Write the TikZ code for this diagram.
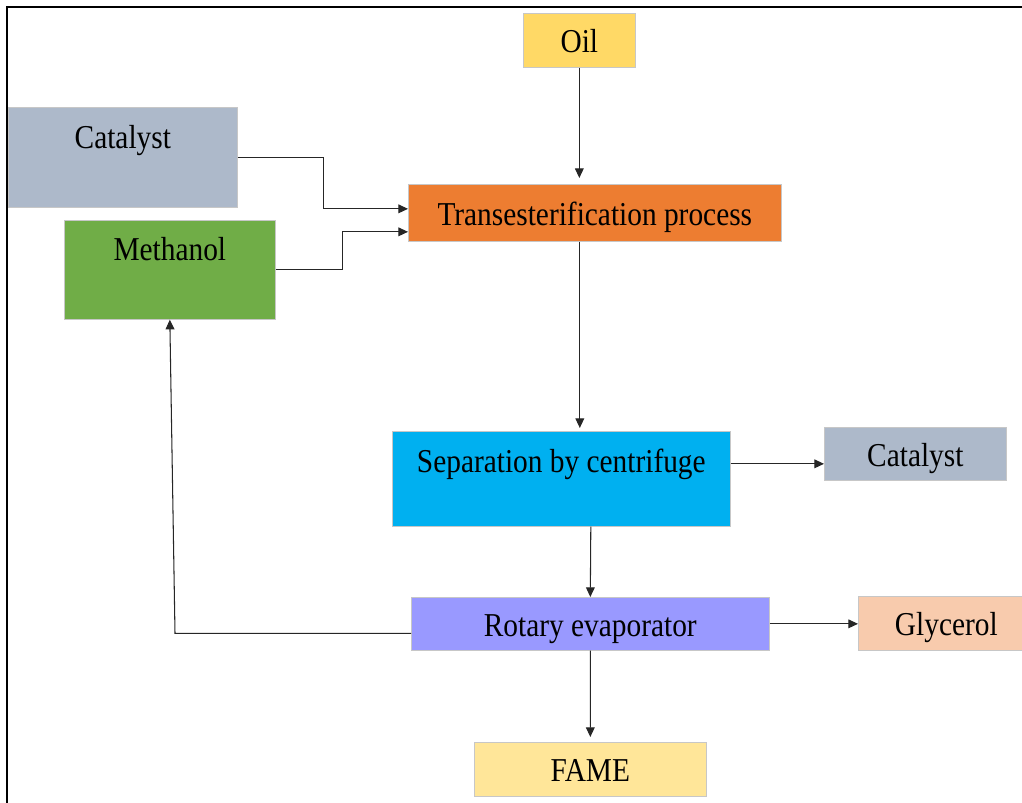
\documentclass[tikz,border=0pt]{standalone}
\usepackage{fontspec}
\setmainfont{Liberation Serif}[FakeStretch=0.88]
\usepackage{xcolor}
\usepackage{tikz}
\usetikzlibrary{arrows.meta, positioning}

\definecolor{oilfill}{HTML}{FFD966}
\definecolor{catfill}{HTML}{ADB9CA}
\definecolor{methfill}{HTML}{70AD47}
\definecolor{transfill}{HTML}{ED7D31}
\definecolor{sepfill}{HTML}{00B0F0}
\definecolor{rotfill}{HTML}{9999FF}
\definecolor{glyfill}{HTML}{F8CBAD}
\definecolor{famefill}{HTML}{FFE699}

\begin{document}
\begin{tikzpicture}[x=0.02cm, y=-0.02cm,
  blk/.style={rectangle, draw=black!22, line width=0.4pt, inner sep=0pt, anchor=north west, align=center,
    text height=0.5cm, text depth=0pt, font=\fontsize{19}{22}\selectfont},
  flow/.style={draw=black!85, line width=0.6pt, -{Triangle[length=5.5pt, width=5pt]}}
]
  \useasboundingbox (0,0) rectangle (1022,803);
  \draw[line width=1.1pt] (7,803) -- (7,7) -- (1022,7);

  \node[blk, fill=oilfill, minimum width=2.24cm, minimum height=1.08cm] (oil) at (523,13) {Oil};
  \node[blk, fill=catfill, minimum width=4.58cm, minimum height=2.0cm, text depth=0.86cm] (catin) at (8,107) {Catalyst};
  \node[blk, fill=methfill, minimum width=4.22cm, minimum height=1.98cm, text depth=0.88cm] (methanol) at (64,220) {Methanol};
  \node[blk, fill=transfill, minimum width=7.46cm, minimum height=1.14cm] (trans) at (408,184) {Transesterification process};
  \node[blk, fill=sepfill, minimum width=6.76cm, minimum height=1.9cm, text depth=0.74cm] (sep) at (392,431) {Separation by centrifuge};
  \node[blk, fill=catfill, minimum width=3.64cm, minimum height=1.06cm] (catout) at (824,427) {Catalyst};
  \node[blk, fill=rotfill, minimum width=7.16cm, minimum height=1.06cm] (rotary) at (411,597) {Rotary evaporator};
  \node[blk, fill=glyfill, minimum width=3.52cm, minimum height=1.08cm] (glycerol) at (858,596) {Glycerol};
  \node[blk, fill=famefill, minimum width=4.64cm, minimum height=1.08cm] (fame) at (474,742) {FAME};

  \draw[flow] (oil.south) -- ([yshift=0.12cm]oil.south |- trans.north);
  \draw[flow] (catin.east) -- ++(86,0) |- ([yshift=0.08cm]trans.west);
  \draw[flow] (methanol.east) -- ++(67,0) |- ([yshift=-0.38cm]trans.west);
  \draw[flow] ([xshift=-0.3cm]trans.south) -- ([xshift=-0.3cm, yshift=0.06cm]trans.south |- sep.north);
  \draw[flow] ([yshift=0.3cm]sep.east) -- ([yshift=0.3cm]sep.east -| catout.west);
  \draw[flow] ([xshift=0.59cm]sep.south) -- (rotary.north);
  \draw[flow] (rotary.east) -- (rotary.east -| glycerol.west);
  \draw[flow] (rotary.south) -- ([yshift=0.1cm]fame.north);
  \draw[flow] ([yshift=-0.19cm]rotary.west) -- ++(-236,0) -- (methanol.south);
\end{tikzpicture}
\end{document}
